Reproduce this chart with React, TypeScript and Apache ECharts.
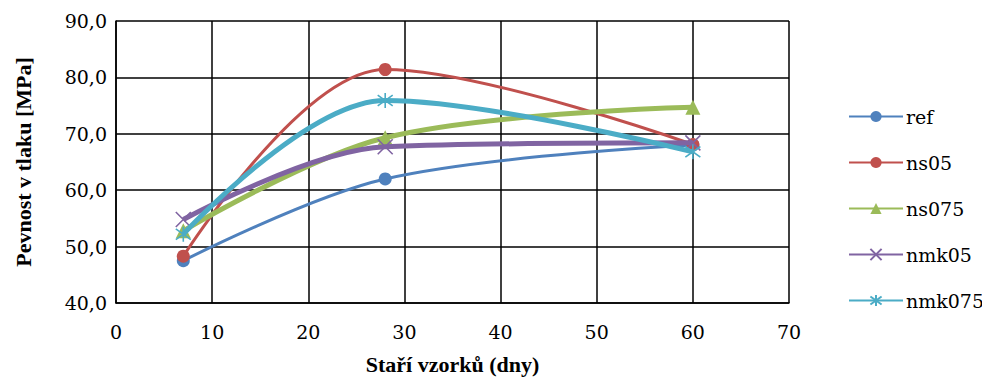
import React, { useEffect, useRef } from "react";
import * as echarts from "echarts";

// Sample age in days
const days = [7, 28, 60];

// Compressive strength [MPa] per mix
const ref = [47.5, 62.0, 68.0];
const ns05 = [48.3, 81.4, 68.1];
const ns075 = [52.8, 69.3, 74.7];
const nmk05 = [54.8, 67.7, 68.4];
const nmk075 = [52.2, 75.9, 66.8];

const seriesNames = ["ref", "ns05", "ns075", "nmk05", "nmk075"];
const seriesValues = [ref, ns05, ns075, nmk05, nmk075];
const colors = ["#4F81BD", "#C0504D", "#9BBB59", "#8064A2", "#4BACC6"];
const widths = [3, 3, 5, 5, 5];
const symbols = [
  "circle",
  "circle",
  "triangle",
  "path://M0,0L10,10M10,0L0,10",
  "path://M0,0L10,10M10,0L0,10M5,-2L5,12",
];
const symbolSizes = [13, 13, 15, 15, 15];

const TITLE_FONT = "Liberation Serif";
const LABEL_FONT = "DejaVu Serif";

export default function App() {
  const ref_ = useRef<HTMLDivElement>(null);

  useEffect(() => {
    if (!ref_.current) return;
    const chart = echarts.init(ref_.current, undefined, { renderer: "svg" });

    const series = seriesNames.map((name, i) => {
      const isPath = symbols[i].startsWith("path://");
      return {
        name,
        type: "line",
        smooth: 0.35,
        data: days.map((d, k) => [d, seriesValues[i][k]]),
        symbol: symbols[i],
        symbolSize: symbolSizes[i],
        showSymbol: true,
        lineStyle: { color: colors[i], width: widths[i] },
        itemStyle: isPath
          ? { color: "none", borderColor: colors[i], borderWidth: 1.6 }
          : { color: colors[i], borderColor: colors[i], borderWidth: 0 },
        z: 2 + i,
      };
    });

    chart.setOption({
      animation: false,
      backgroundColor: "#ffffff",
      grid: { left: 116, top: 21, right: 201, bottom: 84, containLabel: false },
      legend: {
        orient: "vertical",
        left: 843,
        top: 102,
        itemGap: 27,
        itemWidth: 54,
        itemHeight: 14,
        textStyle: { fontFamily: LABEL_FONT, fontSize: 19, color: "#000", padding: [0, 0, 0, -2] },
        data: seriesNames,
      },
      xAxis: {
        type: "value",
        min: 0,
        max: 70,
        interval: 10,
        name: "Staří vzorků (dny)",
        nameLocation: "middle",
        nameGap: 50,
        nameTextStyle: { fontFamily: TITLE_FONT, fontSize: 22, fontWeight: "bold", color: "#000" },
        axisLine: { show: true, lineStyle: { color: "#000", width: 1.5 } },
        axisTick: { show: true, length: 0 },
        axisLabel: { fontFamily: LABEL_FONT, fontSize: 19, color: "#000", margin: 19 },
        splitLine: { show: true, lineStyle: { color: "#000", width: 1.5 } },
      },
      yAxis: {
        type: "value",
        min: 40,
        max: 90,
        interval: 10,
        name: "Pevnost v tlaku [MPa]",
        nameLocation: "middle",
        nameGap: 82,
        nameTextStyle: { fontFamily: TITLE_FONT, fontSize: 22, fontWeight: "bold", color: "#000" },
        axisLine: { show: true, lineStyle: { color: "#000", width: 1.5 } },
        axisTick: { show: false },
        axisLabel: {
          fontFamily: LABEL_FONT,
          fontSize: 19,
          color: "#000",
          margin: 9,
          formatter: (v: number) => v.toFixed(1).replace(".", ","),
        },
        splitLine: { show: true, lineStyle: { color: "#000", width: 1.5 } },
      },
      series,
    });

    return () => chart.dispose();
  }, []);

  return <div ref={ref_} style={{ width: 990, height: 387, margin: -8 }} />;
}
